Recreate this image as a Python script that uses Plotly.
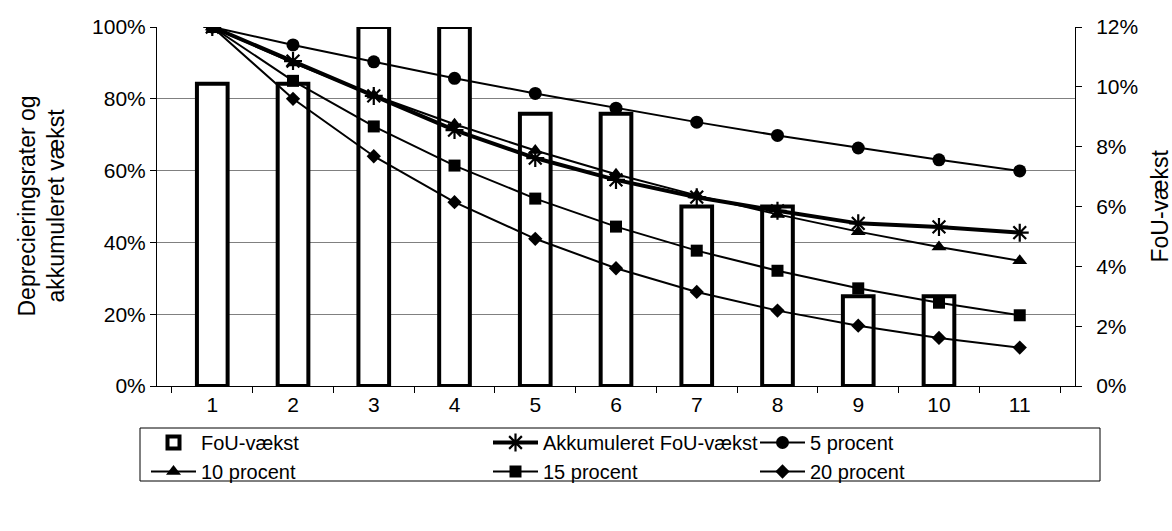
import plotly.graph_objects as go

categories = ["1", "2", "3", "4", "5", "6", "7", "8", "9", "10", "11"]

# FoU-vækst (percent, right axis); no bar for the 11th category
fou_growth = [10.1, 10.1, 12.0, 12.0, 9.1, 9.1, 6.0, 6.0, 3.0, 3.0, None]

# Left axis series (percent)
accum_growth = [100, 90.5, 80.8, 71.3, 63.5, 57.4, 52.6, 48.8, 45.3, 44.3, 42.7]
pct5 = [100, 95.0, 90.3, 85.7, 81.5, 77.4, 73.5, 69.8, 66.3, 63.0, 59.9]
pct10 = [100, 90.0, 81.0, 72.9, 65.6, 59.0, 53.1, 47.8, 43.0, 38.7, 34.9]
pct15 = [100, 85.0, 72.3, 61.4, 52.2, 44.4, 37.7, 32.1, 27.2, 23.2, 19.7]
pct20 = [100, 80.0, 64.0, 51.2, 41.0, 32.8, 26.2, 21.0, 16.8, 13.4, 10.7]

left_ticks = [0, 20, 40, 60, 80, 100]
right_ticks = [0, 2, 4, 6, 8, 10, 12]

FONT = "Liberation Sans, Arial, sans-serif"

# plot-area geometry in pixels (for placing legend columns / box)
L, R, T, B = 157, 97, 27, 145
W, H = 1172, 531
PW, PH = W - L - R, H - T - B


def px_x(x):
    return (x - L) / PW


def px_y(y):
    return (H - B - y) / PH


fig = go.Figure()

fig.add_trace(go.Bar(
    x=categories, y=fou_growth, name="FoU-vækst",
    yaxis="y", width=0.38, legend="legend",
    marker=dict(color="white", line=dict(color="black", width=4)),
))

line_series = [
    ("Akkumuleret FoU-vækst", accum_growth, "asterisk-open", 15, 4, "legend2"),
    ("5 procent", pct5, "circle", 13, 2, "legend3"),
    ("10 procent", pct10, "triangle-up", 13, 2, "legend"),
    ("15 procent", pct15, "square", 12, 2, "legend2"),
    ("20 procent", pct20, "diamond", 11, 2, "legend3"),
]
for name, vals, sym, size, lw, lg in line_series:
    fig.add_trace(go.Scatter(
        x=categories, y=vals, name=name, yaxis="y2", legend=lg,
        mode="lines+markers",
        line=dict(color="black", width=lw),
        marker=dict(symbol=sym, size=size, color="black",
                    line=dict(color="black", width=2.2 if sym.startswith("asterisk") else 0)),
    ))

legend_common = dict(
    orientation="v", xanchor="left", yanchor="top",
    borderwidth=0, bgcolor="rgba(0,0,0,0)",
    font=dict(size=20, family=FONT, color="black"),
    itemwidth=45, traceorder="normal", tracegroupgap=0,
)

fig.update_layout(
    width=W, height=H,
    margin=dict(l=L, r=R, t=T, b=B, autoexpand=False),
    paper_bgcolor="white", plot_bgcolor="white",
    font=dict(family=FONT, size=21, color="black"),
    showlegend=True,
    xaxis=dict(
        type="category", tickson="boundaries",
        ticks="outside", ticklen=6, tickcolor="black", tickwidth=1,
        showline=True, linecolor="black", linewidth=1,
        showgrid=False, ticklabelstandoff=0,
    ),
    yaxis=dict(
        side="right", range=[0, 12], tickvals=right_ticks,
        ticktext=[f"{v}%" for v in right_ticks],
        ticks="outside", ticklen=6, tickcolor="black",
        showline=True, linecolor="black", linewidth=1,
        showgrid=False, zeroline=False, ticklabelstandoff=10,
    ),
    yaxis2=dict(
        overlaying="y", side="left", range=[0, 100], tickvals=left_ticks,
        ticktext=[f"{v}%" for v in left_ticks],
        ticks="outside", ticklen=6, tickcolor="black",
        showline=True, linecolor="black", linewidth=1,
        showgrid=True, gridcolor="#808080", gridwidth=1,
        zeroline=False, ticklabelstandoff=0,
    ),
    annotations=[
        dict(text="Deprecieringsrater og<br>akkumuleret vækst", textangle=-90,
             showarrow=False, xref="paper", yref="paper",
             x=px_x(41), y=0.5, xanchor="center", yanchor="middle",
             font=dict(size=23)),
        dict(text="FoU-vækst", textangle=-90, showarrow=False,
             xref="paper", yref="paper", x=px_x(1159), y=0.5,
             xanchor="center", yanchor="middle", font=dict(size=23)),
    ],
    shapes=[dict(
        type="rect", xref="paper", yref="paper",
        x0=px_x(140), x1=px_x(1100), y0=px_y(481), y1=px_y(428),
        line=dict(color="black", width=1), fillcolor="rgba(0,0,0,0)",
    )],
    legend=dict(legend_common, x=px_x(146), y=px_y(423)),
    legend2=dict(legend_common, x=px_x(488), y=px_y(423)),
    legend3=dict(legend_common, x=px_x(755), y=px_y(423)),
)

fig.write_html(
    "out.html",
    config={"displayModeBar": False},
    post_script="document.body.style.margin='0';document.body.style.overflow='hidden';"
                "document.documentElement.style.overflow='hidden';",
)
